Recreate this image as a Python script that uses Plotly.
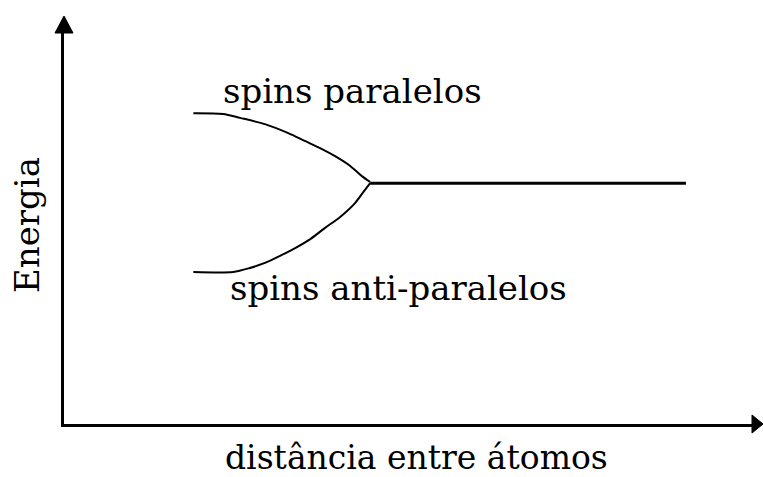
import plotly.graph_objects as go

# Energy of two neighbouring spins as a function of the distance between atoms
# upper branch: parallel spins
dist_paralelos = [1.88, 2.31, 2.56, 2.92, 3.26, 3.50, 3.75, 3.94, 4.16, 4.33, 4.45]
energia_paralelos = [7.95, 7.93, 7.83, 7.67, 7.44, 7.24, 7.03, 6.85, 6.60, 6.34, 6.19]

# lower branch: anti-parallel spins
dist_antiparalelos = [1.88, 2.46, 2.70, 2.92, 3.14, 3.36, 3.58, 3.79, 4.01, 4.23, 4.35, 4.45]
energia_antiparalelos = [3.89, 3.89, 3.99, 4.12, 4.30, 4.50, 4.73, 5.01, 5.29, 5.65, 5.93, 6.16]

# merged level at large distance
dist_separados = [4.45, 9.04]
energia_separados = [6.16, 6.16]

label_x = "distância entre átomos"
label_y = "Energia"
label_par = "spins paralelos"
label_anti = "spins anti-paralelos"

FONT = "DejaVu Serif"
W, H = 763, 477
M_L, M_R, M_T, M_B = 64, 11, 33, 53

fig = go.Figure()
fig.add_trace(go.Scatter(x=dist_paralelos, y=energia_paralelos, mode="lines",
                         line=dict(color="black", width=2, shape="spline", smoothing=0.8),
                         showlegend=False, hoverinfo="skip"))
fig.add_trace(go.Scatter(x=dist_antiparalelos, y=energia_antiparalelos, mode="lines",
                         line=dict(color="black", width=2, shape="spline", smoothing=0.8),
                         showlegend=False, hoverinfo="skip"))
fig.add_trace(go.Scatter(x=dist_separados, y=energia_separados, mode="lines",
                         line=dict(color="black", width=3),
                         showlegend=False, hoverinfo="skip"))

axis_common = dict(showgrid=False, zeroline=False, showticklabels=False, ticks="",
                   showline=True, linecolor="black", linewidth=3, fixedrange=True)
fig.update_xaxes(range=[0, 10], **axis_common)
fig.update_yaxes(range=[0, 10], **axis_common)

# arrow heads at the ends of both axes (paper coordinates)
pw = W - M_L - M_R
ph = H - M_T - M_B
ax_half = 9 / pw
ay_half = 9 / ph
fig.add_shape(type="path", xref="paper", yref="paper",
              path=f"M {-ax_half} 1 L 0 {1 + 17 / ph} L {ax_half} 1 Z",
              fillcolor="black", line=dict(color="black", width=1))
fig.add_shape(type="path", xref="paper", yref="paper",
              path=f"M 1 {-ay_half} L {1 + 11 / pw} 0 L 1 {ay_half} Z",
              fillcolor="black", line=dict(color="black", width=1))

txt_font = dict(family=FONT, size=34, color="black")
fig.add_annotation(x=4.20, y=8.52, text=label_par, showarrow=False,
                   xanchor="center", yanchor="middle", font=txt_font)
fig.add_annotation(x=4.855, y=3.48, text=label_anti, showarrow=False,
                   xanchor="center", yanchor="middle", font=txt_font)
fig.add_annotation(x=(416 - M_L) / pw, y=(424 - 457) / ph, xref="paper", yref="paper",
                   text=label_x, showarrow=False, xanchor="center", yanchor="middle",
                   font=dict(family=FONT, size=33, color="black"))
fig.add_annotation(x=(27 - M_L) / pw, y=(424 - 225) / ph, xref="paper", yref="paper",
                   text=label_y, showarrow=False, textangle=-90,
                   xanchor="center", yanchor="middle", font=txt_font)

fig.update_layout(width=W, height=H, margin=dict(l=M_L, r=M_R, t=M_T, b=M_B),
                  paper_bgcolor="white", plot_bgcolor="white")

fig.write_html("out.html")
